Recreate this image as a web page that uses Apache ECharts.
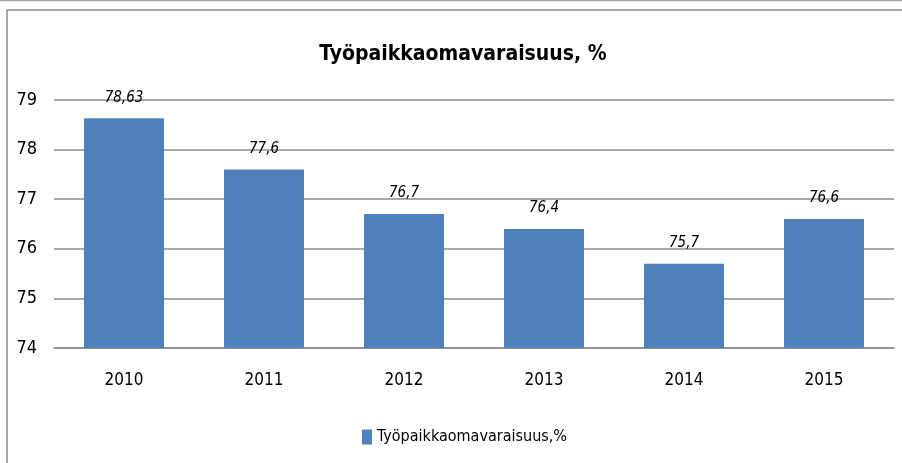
<!DOCTYPE html>
<html>
<head>
<meta charset="utf-8">
<script src="https://cdn.jsdelivr.net/npm/echarts@6/dist/echarts.min.js"></script>
<style>
  html, body { margin: 0; padding: 0; background: #fff; }
  #main { width: 902px; height: 463px; }
</style>
</head>
<body>
<div id="main"></div>
<script>
// vuodet ja arvot
var years = ['2010', '2011', '2012', '2013', '2014', '2015'];
var values = [78.63, 77.6, 76.7, 76.4, 75.7, 76.6];
var valueLabels = ['78,63', '77,6', '76,7', '76,4', '75,7', '76,6'];

var fontFam = "'Liberation Sans Narrow', 'DejaVu Sans Condensed', 'Open Sans', sans-serif";

var chart = echarts.init(document.getElementById('main'));

var option = {
    backgroundColor: '#ffffff',
    animation: false,
    title: {
        text: 'Työpaikkaomavaraisuus, %',
        left: 458,
        textAlign: 'center',
        top: 39,
        textStyle: { fontFamily: fontFam, fontSize: 21, fontWeight: 'bold', color: '#000' }
    },
    legend: {
        data: [{ name: 'Työpaikkaomavaraisuus,%', icon: 'rect' }],
        left: 357,
        top: 424,
        itemWidth: 10,
        itemHeight: 15,
        itemGap: 5,
        textStyle: { fontFamily: fontFam, fontSize: 16, color: '#000' }
    },
    grid: { left: 54, right: 8, top: 100, bottom: 115 },
    xAxis: {
        type: 'category',
        data: years,
        axisTick: { show: false },
        axisLine: { lineStyle: { color: '#8c8c8c', width: 1.5 } },
        axisLabel: { margin: 24, fontFamily: fontFam, fontSize: 17, color: '#000' }
    },
    yAxis: {
        type: 'value',
        min: 74,
        max: 79,
        interval: 1,
        axisLine: { show: false },
        axisTick: { show: false },
        splitLine: { lineStyle: { color: '#8c8c8c', width: 1.5 } },
        axisLabel: { margin: 17, fontFamily: fontFam, fontSize: 18, color: '#000' }
    },
    series: [{
        name: 'Työpaikkaomavaraisuus,%',
        type: 'bar',
        data: values,
        barWidth: 80,
        itemStyle: { color: '#4F81BD' },
        label: {
            show: true,
            position: 'top',
            distance: 13,
            fontFamily: fontFam,
            fontSize: 15,
            fontStyle: 'italic',
            color: '#000',
            formatter: function (p) { return valueLabels[p.dataIndex]; }
        }
    }],
    graphic: [
        { type: 'rect', shape: { x: 7, y: 10, width: 905, height: 470 }, style: { fill: 'none', stroke: '#8c8c8c', lineWidth: 1.5 } },
        { type: 'line', shape: { x1: 0, y1: 0.5, x2: 902, y2: 0.5 }, style: { stroke: '#a0a0a0', lineWidth: 1.5 } }
    ]
};

chart.setOption(option);
</script>
</body>
</html>
